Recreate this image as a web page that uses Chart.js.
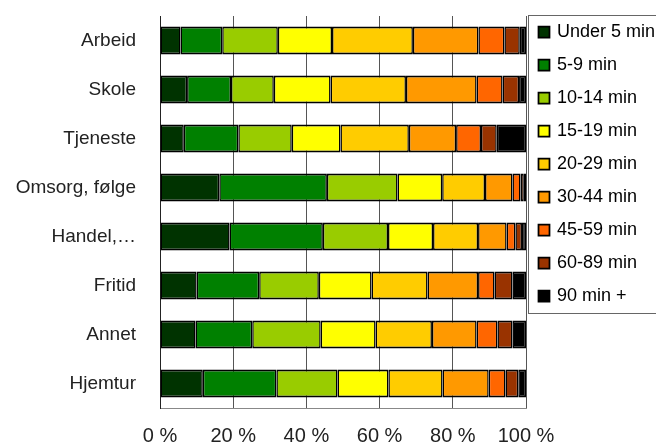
<!DOCTYPE html>
<html>
<head>
<meta charset="utf-8">
<script src="https://cdn.jsdelivr.net/npm/chart.js@4/dist/chart.umd.min.js"></script>
<style>
  html, body { margin: 0; padding: 0; background: #fff; overflow: hidden; }
  #wrap { width: 656px; height: 446px; }
</style>
</head>
<body>
<div id="wrap"><canvas id="barChart" width="656" height="446"></canvas></div>
<script>
// categories (top to bottom)
var categories = ['Arbeid', 'Skole', 'Tjeneste', 'Omsorg, følge', 'Handel,…', 'Fritid', 'Annet', 'Hjemtur'];

// share of trips (%) by travel time, one value per category
var under5   = [5.6, 7.4, 6.5, 16.2, 19.0, 10.0, 9.7, 11.7];
var min5_9   = [11.4, 12.0, 14.9, 29.4, 25.5, 17.1, 15.5, 20.1];
var min10_14 = [15.2, 11.7, 14.6, 19.3, 17.8, 16.3, 18.7, 16.7];
var min15_19 = [14.8, 15.5, 13.3, 12.2, 12.3, 14.4, 15.0, 13.9];
var min20_29 = [22.1, 20.6, 18.7, 11.7, 12.3, 15.3, 15.4, 14.8];
var min30_44 = [17.9, 19.3, 12.9, 7.5, 7.8, 13.8, 12.2, 12.6];
var min45_59 = [7.1, 7.1, 6.8, 2.2, 2.4, 4.5, 5.7, 4.6];
var min60_89 = [4.2, 4.5, 4.3, 0.9, 1.8, 4.9, 4.1, 3.5];
var min90    = [1.7, 1.9, 8.0, 0.6, 1.1, 3.7, 3.7, 2.1];

var seriesLabels = ['Under 5 min', '5-9 min', '10-14 min', '15-19 min', '20-29 min',
                    '30-44 min', '45-59 min', '60-89 min', '90 min +'];
var seriesData = [under5, min5_9, min10_14, min15_19, min20_29, min30_44, min45_59, min60_89, min90];
var seriesColors = ['#003300', '#008000', '#99cc00', '#ffff00', '#ffcc00',
                    '#ff9900', '#ff6600', '#993300', '#000000'];

// x axis ticks (percent)
var xTicks = [0, 20, 40, 60, 80, 100];

var FONT = "'Liberation Sans', Arial, sans-serif";

// nudge the legend and draw the frame round it
var legendFrame = {
  id: 'legendFrame',
  afterLayout: function(chart) {
    var lg = chart.legend;
    lg.top -= 8; lg.bottom -= 8;
    lg.left -= 1; lg.right -= 1;
  },
  afterDraw: function(chart) {
    var lg = chart.legend;
    var ctx = chart.ctx;
    var n = chart.data.datasets.length;
    var top = lg.top + 7;
    var bottom = lg.top + 15 + n * 33 - 7;
    ctx.save();
    ctx.strokeStyle = '#666';
    ctx.lineWidth = 1;
    ctx.strokeRect(Math.round(lg.left) + 3.5, top + 0.5, 200, bottom - top);
    ctx.restore();
  }
};

function initBarChart() {
  var datasets = [];
  for (var i = 0; i < seriesData.length; i++) {
    datasets.push({
      label: seriesLabels[i],
      data: seriesData[i],
      backgroundColor: seriesColors[i],
      borderColor: '#000',
      borderWidth: { top: 2, bottom: 2, left: 1.5, right: 1.5 },
      borderSkipped: false,
      pointStyle: 'rect',
      categoryPercentage: 1,
      barPercentage: 0.57
    });
  }

  var ctx = document.getElementById('barChart');
  new Chart(ctx, {
    type: 'bar',
    data: { labels: categories, datasets: datasets },
    options: {
      indexAxis: 'y',
      responsive: false,
      animation: false,
      layout: { padding: { top: 16, right: 0, bottom: 0, left: 0 } },
      plugins: {
        tooltip: { enabled: false },
        legend: {
          position: 'right',
          align: 'start',
          maxWidth: 130,
          labels: {
            usePointStyle: true,
            boxWidth: 8,
            boxHeight: 11,
            padding: 15,
            color: '#000',
            font: { family: FONT, size: 18 }
          }
        }
      },
      scales: {
        x: {
          stacked: true,
          min: 0,
          max: 100,
          afterBuildTicks: function(scale) {
            scale.ticks = xTicks.map(function(v) { return { value: v }; });
          },
          afterFit: function(scale) {
            scale.height = 38;
            scale.paddingLeft = 0;
            scale.paddingRight = 0;
          },
          grid: { color: '#555', lineWidth: 1, drawTicks: false },
          border: { color: '#888', width: 1 },
          ticks: {
            padding: 16,
            color: '#222',
            font: { family: FONT, size: 20 },
            callback: function(v) { return v + ' %'; }
          }
        },
        y: {
          stacked: true,
          afterFit: function(scale) {
            scale.width = 160;
            scale.paddingTop = 0;
            scale.paddingBottom = 0;
          },
          grid: { display: false, drawTicks: false },
          border: { color: '#222', width: 1 },
          ticks: {
            padding: 24,
            color: '#222',
            font: { family: FONT, size: 19 }
          }
        }
      }
    },
    plugins: [legendFrame]
  });
}

initBarChart();
</script>
</body>
</html>
